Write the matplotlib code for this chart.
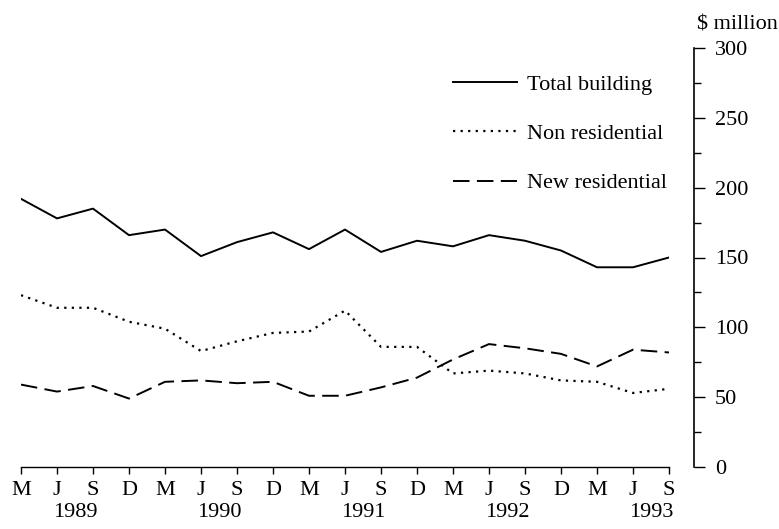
import numpy as np
import matplotlib
matplotlib.use('Agg')
import matplotlib.pyplot as plt
from matplotlib.ticker import MultipleLocator

plt.rcParams['font.family'] = ['Liberation Serif', 'DejaVu Serif']

# Quarter labels, March 1989 to September 1993
months = ['M', 'J', 'S', 'D'] * 4 + ['M', 'J', 'S']
years = ['1989', '1990', '1991', '1992', '1993']

# Values in $ million
total_building = [192, 178, 185, 166, 170, 151, 161, 168, 156, 170,
                  154, 162, 158, 166, 162, 155, 143, 143, 150]
non_residential = [123, 114, 114, 104, 99, 83, 90, 96, 97, 112,
                   86, 86, 67, 69, 67, 62, 61, 53, 56]
new_residential = [59, 54, 58, 49, 61, 62, 60, 61, 51, 51,
                   57, 64, 77, 88, 85, 81, 72, 84, 82]

x = np.arange(len(months))

fig = plt.figure(figsize=(7.79, 5.29), dpi=100)
ax = fig.add_axes([21 / 779, 62 / 529, 648 / 779, 419 / 529])

ax.plot(x, total_building, color='black', lw=1.4, label='Total building')
ax.plot(x, non_residential, color='black', lw=1.6, linestyle=(0, (1, 2.4)),
        label='Non residential')
ax.plot(x, new_residential, color='black', lw=1.4, linestyle=(0, (8.5, 3.8)),
        label='New residential')

ax.set_xlim(0, len(months) - 1)
ax.set_ylim(0, 300)

# Spines: bottom axis plus a detached right axis
for side in ['top', 'left']:
    ax.spines[side].set_visible(False)
ax.spines['right'].set_position(('outward', 18))
ax.spines['right'].set_linewidth(1.2)
ax.spines['bottom'].set_linewidth(1.0)

ax.yaxis.tick_right()
ax.yaxis.set_major_locator(MultipleLocator(50))
ax.yaxis.set_minor_locator(MultipleLocator(25))
ax.tick_params(axis='y', which='major', direction='out', length=8, width=1.0,
               pad=7, labelsize=16)
ax.tick_params(axis='y', which='minor', direction='out', length=5, width=1.0)

ax.set_xticks(x)
ax.set_xticklabels(months)
ax.tick_params(axis='x', direction='out', length=5, width=1.0, pad=5,
               labelsize=16)

# Year labels centred between June and September ticks
for i, yr in enumerate(years):
    ax.annotate(yr, xy=(1.5 + 4 * i, 0), xycoords=('data', 'axes fraction'),
                xytext=(0, -33), textcoords='offset points',
                ha='center', va='center', fontsize=16)

fig.text(697 / 779, 1 - 25 / 529, '$ million', ha='left', va='center',
         fontsize=16)

ax.legend(loc='upper left', bbox_to_anchor=(453 / 779, 1 - 74 / 529),
          bbox_transform=fig.transFigure, frameon=False, fontsize=16,
          handlelength=2.9, handletextpad=0.45, labelspacing=1.3,
          borderpad=0, borderaxespad=0)

fig.savefig('out.png', dpi=100)
